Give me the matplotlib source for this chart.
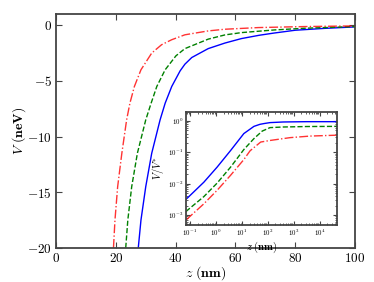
import numpy as np
import matplotlib
matplotlib.use("Agg")
import matplotlib.pyplot as plt
from matplotlib.ticker import FuncFormatter, LogLocator, NullFormatter

plt.rcParams['mathtext.fontset'] = 'cm'
plt.rcParams['font.family'] = 'serif'
plt.rcParams['font.serif'] = ['DejaVu Serif']

# Main panel data: z (nm), V (neV)
z_blue = [27.5, 28.4, 30.0, 32.0, 34.8, 36.5, 38.7, 41.5, 43.1, 45.4, 50.9, 56.5, 62.0, 68.0, 73.0, 80.0, 90.0, 100.0]
V_blue = [-20.0, -17.5, -14.5, -11.5, -8.5, -7.0, -5.5, -4.1, -3.5, -2.9, -2.1, -1.6, -1.2, -0.9, -0.7, -0.45, -0.28, -0.15]
z_green = [23.3, 24.0, 25.3, 27.2, 30.0, 31.8, 33.7, 36.5, 40.1, 43.1, 45.4, 50.9, 56.5, 62.1, 73.2, 83.3, 100.0]
V_green = [-20.0, -17.5, -14.5, -11.5, -8.5, -7.0, -5.5, -4.0, -2.75, -2.1, -1.85, -1.25, -0.87, -0.66, -0.42, -0.27, -0.12]
z_red = [19.2, 19.7, 20.6, 22.0, 23.6, 24.7, 26.2, 28.4, 32.0, 35.3, 38.7, 43.1, 50.9, 56.5, 67.7, 83.0, 100.0]
V_red = [-20.0, -17.5, -14.5, -11.5, -8.5, -7.0, -5.5, -4.0, -2.5, -1.75, -1.3, -0.86, -0.51, -0.36, -0.21, -0.12, -0.06]

# Inset data: log10 z, log10 V/V*
lz_blue = [-1.15, -1.10, -0.46, 0.05, 0.57, 1.08, 1.47, 1.70, 1.86, 2.09, 2.6, 3.5, 4.7]
lv_blue = [-2.49, -2.46, -1.95, -1.47, -0.94, -0.40, -0.17, -0.105, -0.08, -0.05, -0.03, -0.02, -0.02]
lz_green = [-1.15, -1.10, -0.46, 0.05, 0.57, 1.08, 1.47, 1.79, 2.09, 2.6, 3.5, 4.7]
lv_green = [-2.89, -2.85, -2.41, -1.98, -1.47, -0.91, -0.56, -0.32, -0.21, -0.19, -0.175, -0.17]
lz_red = [-1.15, -1.10, -0.46, 0.05, 0.57, 1.08, 1.32, 1.73, 2.09, 2.86, 3.63, 4.7]
lv_red = [-3.16, -3.12, -2.64, -2.21, -1.73, -1.23, -0.95, -0.67, -0.62, -0.53, -0.48, -0.45]

spine_col = '#444444'

fig = plt.figure(figsize=(3.74, 2.82), dpi=100)
ax = fig.add_axes([0.150, 0.121, 0.799, 0.829])
ax.plot(z_blue, V_blue, color='#0000ff', ls='-', lw=1.0)
ax.plot(z_green, V_green, color='#008000', ls='--', lw=1.0)
ax.plot(z_red, V_red, color='#ff0000', ls='-.', lw=1.0, alpha=0.8)
ax.set_xlim(0, 100)
ax.set_ylim(-20, 1)
ax.set_xticks([0, 20, 40, 60, 80, 100])
ax.set_yticks([-20, -15, -10, -5, 0])
fmt = FuncFormatter(lambda v, p: r'$%d$' % v)
ax.xaxis.set_major_formatter(fmt)
ax.yaxis.set_major_formatter(fmt)
ax.tick_params(direction='in', top=True, right=True, labelsize=9.5, length=4,
               color=spine_col, pad=3)
for s in ax.spines.values():
    s.set_color(spine_col)
    s.set_linewidth(1.3)
ax.set_xlabel(r'$z\ \mathbf{(nm)}$', fontsize=10)
ax.set_ylabel(r'$V\ \mathbf{(neV)}$', fontsize=10)
ax.xaxis.set_label_coords(0.5, -0.07)
ax.yaxis.set_label_coords(-0.095, 0.5)

ins = fig.add_axes([0.497, 0.202, 0.404, 0.401])
ins.plot(10 ** np.array(lz_blue), 10 ** np.array(lv_blue), color='#0000ff', ls='-', lw=1.0)
ins.plot(10 ** np.array(lz_green), 10 ** np.array(lv_green), color='#008000', ls='--', lw=1.0)
ins.plot(10 ** np.array(lz_red), 10 ** np.array(lv_red), color='#ff0000', ls='-.', lw=1.0, alpha=0.8)
ins.set_xscale('log')
ins.set_yscale('log')
ins.set_xlim(0.07, 4.7e4)
ins.set_ylim(4.8e-4, 1.95)
ins.xaxis.set_major_locator(LogLocator(base=10, numticks=20))
ins.yaxis.set_major_locator(LogLocator(base=10, numticks=20))
ins.xaxis.set_minor_locator(LogLocator(base=10, subs=np.arange(2, 10), numticks=20))
ins.yaxis.set_minor_locator(LogLocator(base=10, subs=np.arange(2, 10), numticks=20))
ins.xaxis.set_minor_formatter(NullFormatter())
ins.yaxis.set_minor_formatter(NullFormatter())
lfmt = FuncFormatter(lambda v, p: r'$10^{%d}$' % int(round(np.log10(v))))
ins.xaxis.set_major_formatter(lfmt)
ins.yaxis.set_major_formatter(lfmt)
ins.tick_params(which='both', direction='in', top=True, right=True, labelsize=5,
                color=spine_col, pad=2)
ins.tick_params(which='major', length=3)
ins.tick_params(which='minor', length=1.5)
for s in ins.spines.values():
    s.set_color(spine_col)
    s.set_linewidth(1.3)
ins.set_xlabel(r'$z\ \mathbf{(nm)}$', fontsize=7.5, labelpad=1)
ins.set_ylabel(r'$V/V^{*}$', fontsize=7.5, labelpad=1)

fig.savefig('out.png', dpi=100)
